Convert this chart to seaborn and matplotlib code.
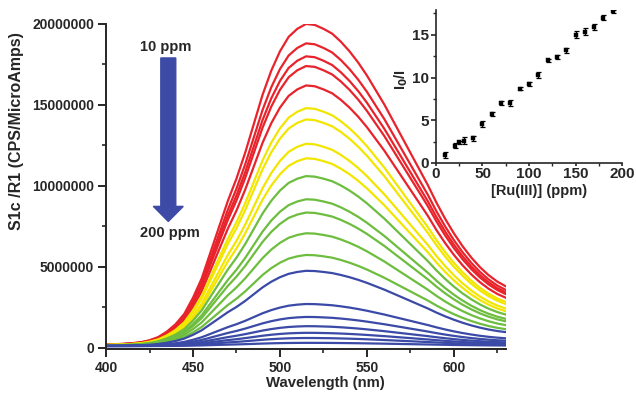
import numpy as np
import pandas as pd
import matplotlib
matplotlib.use("Agg")
import matplotlib.pyplot as plt
import seaborn as sns

# emission spectra: wavelength grid and normalised band shape
wavelength = [400, 405, 410, 415, 420, 425, 430, 435, 440, 445, 450, 455,
              460, 465, 470, 475, 480, 485, 490, 495, 500, 505, 510, 515,
              520, 525, 530, 535, 540, 545, 550, 555, 560, 565, 570, 575,
              580, 585, 590, 595, 600, 605, 610, 615, 620, 625, 630]
band_shape = [0.005, 0.006, 0.007, 0.009, 0.012, 0.018, 0.028, 0.045, 0.068,
              0.10, 0.15, 0.21, 0.29, 0.37, 0.45, 0.52, 0.60, 0.69, 0.78,
              0.855, 0.915, 0.96, 0.985, 1.0, 0.997, 0.985, 0.97, 0.945,
              0.915, 0.88, 0.84, 0.795, 0.75, 0.70, 0.65, 0.60, 0.55, 0.50,
              0.445, 0.395, 0.35, 0.31, 0.275, 0.245, 0.22, 0.20, 0.185]
baseline = 1.0e5

# peak intensity of each curve (10 ppm -> 200 ppm) and its colour group
peak_intensity = [19.9e6, 18.7e6, 17.9e6, 17.3e6, 16.1e6,
                  14.7e6, 14.0e6, 12.5e6, 11.6e6,
                  10.5e6, 9.07e6, 8.25e6, 6.97e6, 5.63e6,
                  4.65e6, 2.6e6, 1.8e6, 1.23e6, 0.82e6, 0.5e6, 0.2e6]
curve_group = ["red"] * 5 + ["yellow"] * 4 + ["green"] * 5 + ["blue"] * 7
group_colors = {"red": "#e8232b", "yellow": "#f2e600",
                "green": "#6dbd3f", "blue": "#3b4aa6"}

# inset: Stern-Volmer style plot
conc_ppm = [10, 20, 25, 30, 40, 50, 60, 70, 80, 90, 100, 110, 120, 130,
            140, 150, 160, 170, 180, 190]
i0_over_i = [0.9, 2.0, 2.4, 2.6, 2.9, 4.6, 5.7, 7.0, 7.0, 8.7, 9.25, 10.25,
             12.0, 12.4, 13.2, 15.0, 15.35, 15.95, 17.0, 17.75]
i0_err = [0.35, 0.3, 0.2, 0.4, 0.3, 0.35, 0.25, 0.2, 0.35, 0.2, 0.25, 0.35,
          0.15, 0.2, 0.3, 0.4, 0.4, 0.35, 0.3, 0.15]

rows = []
for k, pk in enumerate(peak_intensity):
    for wl, sh in zip(wavelength, band_shape):
        rows.append({"wavelength": wl, "intensity": baseline + pk * sh, "curve": k})
spectra = pd.DataFrame(rows)
palette = [group_colors[g] for g in curve_group]

sns.set_style("ticks")
plt.rcParams["font.family"] = ["Liberation Sans", "DejaVu Sans"]
plt.rcParams["font.weight"] = "bold"

fig = plt.figure(figsize=(6.36, 3.94), dpi=100)
ax = fig.add_axes([0.1667, 0.1142, 0.629, 0.825])

sns.lineplot(data=spectra, x="wavelength", y="intensity", hue="curve",
             palette=palette, legend=False, linewidth=1.6, estimator=None, ax=ax)

ax.set_xlim(400, 630)
ax.set_ylim(-8e4, 2.0e7)
ax.set_xticks([400, 450, 500, 550, 600])
ax.set_xticks([425, 475, 525, 575, 625], minor=True)
ax.set_yticks([0, 5e6, 1e7, 1.5e7, 2e7])
ax.set_yticks([2.5e6, 7.5e6, 1.25e7, 1.75e7], minor=True)
ax.set_yticklabels(["0", "5000000", "10000000", "15000000", "20000000"])
ax.set_xlabel("")
ax.set_ylabel("")
sns.despine(ax=ax)
for sp in ["left", "bottom"]:
    ax.spines[sp].set_linewidth(1.4)
ax.tick_params(which="major", length=5.5, width=1.4, pad=3, labelsize=10)
ax.tick_params(which="minor", length=3, width=1.2)
for lab in ax.get_xticklabels() + ax.get_yticklabels():
    lab.set_fontweight("bold")

# concentration arrow
ax.arrow(435.8, 17.9e6, 0, -10.1e6, width=8.6, head_width=17.2,
         head_length=0.93e6, length_includes_head=True,
         color="#3d4ba6", zorder=3)
ax.text(434.5, 18.55e6, "10 ppm", ha="center", va="center",
        fontsize=10.5, fontweight="bold")
ax.text(436.8, 7.1e6, "200 ppm", ha="center", va="center",
        fontsize=10.5, fontweight="bold")

fig.text(17 / 636, 1 - 131 / 394, "S1c /R1 (CPS/MicroAmps)", rotation=90,
         ha="center", va="center", fontsize=11.5, fontweight="bold")
fig.text(325 / 636, 1 - 383 / 394, "Wavelength (nm)", ha="center",
         va="center", fontsize=10.7, fontweight="bold")

# inset
axi = fig.add_axes([0.6855, 0.5863, 0.2925, 0.3883])
axi.errorbar(conc_ppm, i0_over_i, yerr=i0_err, fmt="none", ecolor="black",
             elinewidth=0.9, capsize=1.8, capthick=0.9)
sns.scatterplot(x=conc_ppm, y=i0_over_i, marker="s", s=10, color="black",
                edgecolor="black", linewidth=0.3, ax=axi, zorder=3)
axi.set_xlim(0, 200)
axi.set_ylim(0, 17.9)
axi.set_xticks([0, 50, 100, 150, 200])
axi.set_xticks([25, 75, 125, 175], minor=True)
axi.set_yticks([0, 5, 10, 15])
axi.set_yticks([2.5, 7.5, 12.5, 17.5], minor=True)
axi.patch.set_alpha(0)
sns.despine(ax=axi)
for sp in ["left", "bottom"]:
    axi.spines[sp].set_linewidth(1.2)
axi.tick_params(which="major", length=3.5, width=1.2, pad=1.5, labelsize=11)
axi.tick_params(axis="x", which="major", length=2.5, pad=0.5)
axi.tick_params(which="minor", length=2, width=1.0)
for lab in axi.get_xticklabels() + axi.get_yticklabels():
    lab.set_fontweight("bold")

fig.text(539 / 636, 1 - 191 / 394, "[Ru(III)] (ppm)", ha="center",
         va="center", fontsize=10.5, fontweight="bold")
fig.text(401 / 636, 1 - 80 / 394, "I$_\\mathbf{0}$/I", rotation=90,
         ha="center", va="center", fontsize=10.5, fontweight="bold")

fig.savefig("out.png", dpi=100)
